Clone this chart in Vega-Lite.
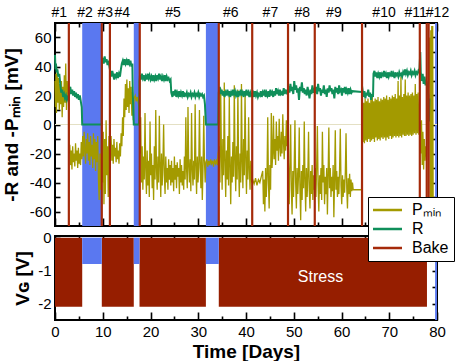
{
"$schema": "https://vega.github.io/schema/vega-lite/v6.json",
"padding": {"left": 1, "top": 4, "right": 0, "bottom": 0},
"background": "white",
"bounds": "flush",
"spacing": 10,
"config": {
  "font": "Liberation Sans",
  "view": {"stroke": "black", "strokeWidth": 2},
  "axis": {"domain": false, "grid": false, "zindex": 1, "tickColor": "black", "tickWidth": 1.6, "labelFont": "Liberation Sans", "labelFontSize": 15, "labelColor": "black", "labelFlush": false, "labelOverlap": false, "labelPadding": 5, "titleFont": "Liberation Sans", "titleFontSize": 19, "titleFontWeight": "bold", "titleColor": "black"}
},
"datasets": {
  "bands": [{"s": 5.7, "e": 9.8}, {"s": 16.5, "e": 17.6}, {"s": 31.6, "e": 34.2}],
  "edge": [{"s": 79.6, "e": 80}],
  "zero": [{"v": 0}],
  "bake": [{"t": 2.9}, {"t": 9.8}, {"t": 11.5}, {"t": 17.75}, {"t": 34.3}, {"t": 41.3}, {"t": 48.8}, {"t": 54.4}, {"t": 64.3}, {"t": 76.4}, {"t": 77.85}, {"t": 78.25}],
  "stress": [{"s": 0, "e": 5.7, "vg": -2.1}, {"s": 9.8, "e": 16.5, "vg": -2.1}, {"s": 17.7, "e": 31.6, "vg": -2.1}, {"s": 34.3, "e": 77.9, "vg": -2.1}],
  "off": [{"s": 5.7, "e": 9.8, "vg": -0.8}, {"s": 16.5, "e": 17.7, "vg": -0.8}, {"s": 31.6, "e": 34.3, "vg": -0.8}],
  "label": [{"t": 55.6, "vg": -1.2, "text": "Stress"}],
  "P": [
{"t":0,"v":30},{"t":0.1,"v":12},{"t":0.2,"v":35},{"t":0.3,"v":8},{"t":0.45,"v":38},{"t":0.6,"v":15},{"t":0.75,"v":32},{"t":0.9,"v":10},{"t":1.05,"v":28},{"t":1.2,"v":14},{"t":1.35,"v":30},{"t":1.5,"v":5},{"t":1.65,"v":26},{"t":1.8,"v":12},{"t":1.95,"v":34},{"t":2.1,"v":15},{"t":2.25,"v":42},{"t":2.4,"v":10},{"t":2.55,"v":30},{"t":2.7,"v":18},{"t":2.85,"v":25},
{"t":2.95,"v":-20},{"t":3.1,"v":-14},{"t":3.25,"v":-28},{"t":3.4,"v":-18},{"t":3.55,"v":-31},{"t":3.7,"v":-15},{"t":3.85,"v":-26},{"t":4.0,"v":-20},{"t":4.15,"v":-29},{"t":4.3,"v":-13},{"t":4.45,"v":-25},{"t":4.6,"v":-18},{"t":4.75,"v":-30},{"t":4.9,"v":-16},{"t":5.05,"v":-27},{"t":5.2,"v":-20},{"t":5.35,"v":-28},{"t":5.5,"v":-12},{"t":5.65,"v":-24},
{"t":5.8,"v":-8},{"t":5.95,"v":-22},{"t":6.1,"v":-5},{"t":6.25,"v":-18},{"t":6.4,"v":-27},{"t":6.55,"v":-10},{"t":6.7,"v":-20},{"t":6.85,"v":-6},{"t":7.0,"v":-25},{"t":7.15,"v":-12},{"t":7.3,"v":-28},{"t":7.45,"v":-8},{"t":7.6,"v":-22},{"t":7.75,"v":-14},{"t":7.9,"v":-30},{"t":8.05,"v":-6},{"t":8.2,"v":-24},{"t":8.35,"v":-10},{"t":8.5,"v":-32},{"t":8.65,"v":-12},{"t":8.8,"v":-26},{"t":8.95,"v":-8},{"t":9.1,"v":-38},{"t":9.25,"v":-52},{"t":9.4,"v":-20},{"t":9.55,"v":-45},{"t":9.7,"v":-15},
{"t":9.85,"v":2},{"t":10.0,"v":-40},{"t":10.1,"v":-5},{"t":10.25,"v":-55},{"t":10.4,"v":-10},{"t":10.55,"v":-48},{"t":10.7,"v":3},{"t":10.85,"v":-35},{"t":11.0,"v":-15},{"t":11.15,"v":-50},{"t":11.3,"v":-8},{"t":11.45,"v":-30},
{"t":11.6,"v":-20},{"t":11.75,"v":-8},{"t":11.9,"v":-25},{"t":12.05,"v":-14},{"t":12.2,"v":-27},{"t":12.35,"v":-10},{"t":12.5,"v":-22},{"t":12.65,"v":-16},{"t":12.8,"v":-26},{"t":12.95,"v":-12},{"t":13.1,"v":-24},{"t":13.25,"v":-18},{"t":13.4,"v":-27},{"t":13.55,"v":-13},{"t":13.7,"v":-22},{"t":13.85,"v":-6},
{"t":14.0,"v":-15},{"t":14.15,"v":5},{"t":14.3,"v":-8},{"t":14.45,"v":18},{"t":14.6,"v":5},{"t":14.75,"v":28},{"t":14.9,"v":10},{"t":15.05,"v":31},{"t":15.2,"v":12},{"t":15.35,"v":25},{"t":15.5,"v":8},{"t":15.65,"v":30},{"t":15.8,"v":14},{"t":15.95,"v":26},{"t":16.1,"v":6},{"t":16.25,"v":22},{"t":16.4,"v":3},
{"t":16.55,"v":18},{"t":16.8,"v":20},{"t":17.0,"v":16},{"t":17.2,"v":19},{"t":17.45,"v":15},{"t":17.65,"v":10},
{"t":17.8,"v":-20},{"t":17.95,"v":5},{"t":18.1,"v":-40},{"t":18.25,"v":-15},{"t":18.4,"v":-45},{"t":18.55,"v":-22},{"t":18.7,"v":-38},{"t":18.85,"v":8},{"t":19.0,"v":-30},{"t":19.15,"v":-48},{"t":19.3,"v":-18},{"t":19.45,"v":-42},{"t":19.6,"v":-25},{"t":19.75,"v":-50},{"t":19.9,"v":2},{"t":20.05,"v":-35},{"t":20.2,"v":-20},{"t":20.35,"v":-44},{"t":20.5,"v":-28},{"t":20.65,"v":-52},{"t":20.8,"v":-15},{"t":20.95,"v":-38},{"t":21.1,"v":10},{"t":21.25,"v":-30},{"t":21.4,"v":-45},{"t":21.55,"v":-22},{"t":21.7,"v":-40},{"t":21.85,"v":6},{"t":22.0,"v":-28},{"t":22.15,"v":-50},{"t":22.3,"v":-20},{"t":22.45,"v":-42},{"t":22.6,"v":-26},{"t":22.75,"v":0},{"t":22.9,"v":-35},{"t":23.05,"v":-48},{"t":23.2,"v":-22},{"t":23.35,"v":-40},{"t":23.5,"v":-30},{"t":23.65,"v":-45},{"t":23.8,"v":-24},{"t":23.95,"v":-38},{"t":24.1,"v":-28},{"t":24.25,"v":-42},
{"t":24.4,"v":-25},{"t":24.55,"v":-40},{"t":24.7,"v":-30},{"t":24.85,"v":-46},{"t":25.0,"v":-22},{"t":25.15,"v":-38},{"t":25.3,"v":-28},{"t":25.45,"v":-44},{"t":25.6,"v":-26},{"t":25.75,"v":-36},{"t":25.9,"v":-30},{"t":26.05,"v":-48},{"t":26.2,"v":-24},{"t":26.35,"v":-40},{"t":26.5,"v":-28},{"t":26.65,"v":-42},{"t":26.8,"v":-32},{"t":26.95,"v":-45},{"t":27.1,"v":-22},{"t":27.25,"v":-38},{"t":27.4,"v":5},{"t":27.55,"v":-30},{"t":27.7,"v":-44},{"t":27.85,"v":12},{"t":28.0,"v":-28},{"t":28.15,"v":-40},{"t":28.3,"v":-24},{"t":28.45,"v":-46},{"t":28.6,"v":8},{"t":28.75,"v":-30},{"t":28.9,"v":-42},{"t":29.05,"v":-25},{"t":29.2,"v":-38},{"t":29.35,"v":14},{"t":29.5,"v":-28},{"t":29.65,"v":-48},{"t":29.8,"v":-22},{"t":29.95,"v":-40},{"t":30.1,"v":-30},{"t":30.25,"v":10},{"t":30.4,"v":-26},{"t":30.55,"v":-44},{"t":30.7,"v":-22},{"t":30.85,"v":-52},{"t":31.0,"v":-30},{"t":31.15,"v":6},{"t":31.3,"v":-25},{"t":31.45,"v":-40},
{"t":31.6,"v":-26},{"t":31.8,"v":-24},{"t":32.0,"v":-29},{"t":32.2,"v":-25},{"t":32.4,"v":-28},{"t":32.6,"v":-24},{"t":32.8,"v":-27},{"t":33.0,"v":-25},{"t":33.2,"v":-29},{"t":33.4,"v":-24},{"t":33.6,"v":-27},{"t":33.8,"v":-25},{"t":34.0,"v":-28},{"t":34.15,"v":-20},
{"t":34.4,"v":-15},{"t":34.55,"v":-40},{"t":34.7,"v":25},{"t":34.85,"v":-20},{"t":35.0,"v":-45},{"t":35.15,"v":-10},{"t":35.3,"v":-35},{"t":35.45,"v":29},{"t":35.6,"v":-25},{"t":35.75,"v":-50},{"t":35.9,"v":-18},{"t":36.05,"v":-38},{"t":36.2,"v":-8},{"t":36.35,"v":-42},{"t":36.5,"v":20},{"t":36.65,"v":-28},{"t":36.8,"v":-55},{"t":36.95,"v":-22},{"t":37.1,"v":-40},{"t":37.25,"v":-12},{"t":37.4,"v":-36},{"t":37.55,"v":27},{"t":37.7,"v":-24},{"t":37.85,"v":-46},{"t":38.0,"v":-15},{"t":38.15,"v":-38},{"t":38.3,"v":24},{"t":38.45,"v":-28},{"t":38.6,"v":-50},{"t":38.75,"v":-20},{"t":38.9,"v":-40},{"t":39.05,"v":28},{"t":39.2,"v":-25},{"t":39.35,"v":-44},{"t":39.5,"v":-10},{"t":39.65,"v":-35},{"t":39.8,"v":22},{"t":39.95,"v":-22},{"t":40.1,"v":-48},{"t":40.25,"v":-18},{"t":40.4,"v":-38},{"t":40.55,"v":5},{"t":40.7,"v":-30},{"t":40.85,"v":-45},{"t":41.0,"v":-25},{"t":41.2,"v":-40},
{"t":41.4,"v":-38},{"t":41.7,"v":-41},{"t":42.0,"v":-37},{"t":42.3,"v":-42},{"t":42.6,"v":-38},{"t":42.9,"v":-40},{"t":43.2,"v":-36},
{"t":43.5,"v":-32},{"t":43.65,"v":-55},{"t":43.8,"v":-38},{"t":43.95,"v":-60},{"t":44.1,"v":-30},{"t":44.25,"v":-50},{"t":44.4,"v":-35},{"t":44.55,"v":5},{"t":44.7,"v":-40},{"t":44.85,"v":-58},{"t":45.0,"v":-28},{"t":45.15,"v":-45},{"t":45.3,"v":8},{"t":45.45,"v":-30},{"t":45.6,"v":-20},{"t":45.75,"v":6},{"t":45.9,"v":-24},{"t":46.05,"v":-10},{"t":46.2,"v":-28},{"t":46.35,"v":2},{"t":46.5,"v":-18},{"t":46.65,"v":-8},{"t":46.8,"v":-25},{"t":46.95,"v":4},{"t":47.1,"v":-15},{"t":47.25,"v":-22},{"t":47.4,"v":-5},{"t":47.55,"v":-20},{"t":47.7,"v":7},{"t":47.85,"v":-12},{"t":48.0,"v":-24},{"t":48.15,"v":-8},{"t":48.3,"v":-18},{"t":48.45,"v":3},{"t":48.6,"v":-15},{"t":48.75,"v":-10},
{"t":48.9,"v":-30},{"t":49.05,"v":-55},{"t":49.2,"v":-25},{"t":49.35,"v":0},{"t":49.5,"v":-45},{"t":49.65,"v":-62},{"t":49.8,"v":-32},{"t":49.95,"v":-50},{"t":50.1,"v":-28},{"t":50.25,"v":3},{"t":50.4,"v":-40},{"t":50.55,"v":-58},{"t":50.7,"v":-30},{"t":50.85,"v":-48},{"t":51.0,"v":-35},{"t":51.15,"v":-2},{"t":51.3,"v":-45},{"t":51.45,"v":-66},{"t":51.6,"v":-32},{"t":51.75,"v":-52},{"t":51.9,"v":-28},{"t":52.05,"v":-44},{"t":52.2,"v":2},{"t":52.35,"v":-38},{"t":52.5,"v":-60},{"t":52.65,"v":-30},{"t":52.8,"v":-50},{"t":52.95,"v":-35},{"t":53.1,"v":-5},{"t":53.25,"v":-45},{"t":53.4,"v":-58},{"t":53.55,"v":-32},{"t":53.7,"v":-48},{"t":53.85,"v":-28},{"t":54.0,"v":-52},{"t":54.15,"v":-35},{"t":54.3,"v":-45},
{"t":54.5,"v":-30},{"t":54.65,"v":-50},{"t":54.8,"v":-28},{"t":54.95,"v":-1},{"t":55.1,"v":-42},{"t":55.25,"v":-60},{"t":55.4,"v":-35},{"t":55.55,"v":-48},{"t":55.7,"v":-30},{"t":55.85,"v":-52},{"t":56.0,"v":-5},{"t":56.15,"v":-40},{"t":56.3,"v":-28},{"t":56.45,"v":-55},{"t":56.6,"v":-36},{"t":56.75,"v":-48},{"t":56.9,"v":-30},{"t":57.05,"v":-62},{"t":57.2,"v":-34},{"t":57.35,"v":-2},{"t":57.5,"v":-44},{"t":57.65,"v":-30},{"t":57.8,"v":-50},{"t":57.95,"v":-36},{"t":58.1,"v":-46},{"t":58.25,"v":-28},{"t":58.4,"v":-64},{"t":58.55,"v":-38},{"t":58.7,"v":-4},{"t":58.85,"v":-45},{"t":59.0,"v":-32},{"t":59.15,"v":-50},{"t":59.3,"v":-36},{"t":59.45,"v":-48},{"t":59.6,"v":-30},{"t":59.75,"v":-3},{"t":59.9,"v":-42},{"t":60.05,"v":-55},{"t":60.2,"v":-35},{"t":60.35,"v":-50},{"t":60.5,"v":-38},{"t":60.65,"v":-47},{"t":60.8,"v":-33},{"t":60.95,"v":-6},{"t":61.1,"v":-44},{"t":61.25,"v":-58},{"t":61.4,"v":-37},{"t":61.55,"v":-48},{"t":61.7,"v":-34},{"t":61.85,"v":-50},{"t":62.0,"v":-38},{"t":62.15,"v":-46},{"t":62.3,"v":-40},{"t":62.45,"v":-45},{"t":64.2,"v":-45},
{"t":64.35,"v":17},{"t":64.5,"v":-12},{"t":64.65,"v":15},{"t":64.8,"v":-13},{"t":64.95,"v":18},{"t":65.1,"v":-11},{"t":65.25,"v":16},{"t":65.4,"v":-12},{"t":65.55,"v":18},{"t":65.7,"v":-10},{"t":65.85,"v":15},{"t":66.0,"v":-12},{"t":66.15,"v":17},{"t":66.3,"v":-11},{"t":66.45,"v":19},{"t":66.6,"v":-10},{"t":66.75,"v":16},{"t":66.9,"v":-12},{"t":67.05,"v":18},{"t":67.2,"v":-9},{"t":67.35,"v":17},{"t":67.5,"v":-11},{"t":67.65,"v":19},{"t":67.8,"v":-10},{"t":67.95,"v":16},{"t":68.1,"v":-11},{"t":68.25,"v":18},{"t":68.4,"v":-9},{"t":68.55,"v":17},{"t":68.7,"v":-10},{"t":68.85,"v":19},{"t":69.0,"v":-9},{"t":69.15,"v":18},{"t":69.3,"v":-11},{"t":69.45,"v":20},{"t":69.6,"v":-9},{"t":69.75,"v":17},{"t":69.9,"v":-10},{"t":70.05,"v":19},{"t":70.2,"v":-8},{"t":70.35,"v":18},{"t":70.5,"v":-10},{"t":70.65,"v":20},{"t":70.8,"v":-9},{"t":70.95,"v":19},{"t":71.1,"v":-8},{"t":71.25,"v":21},{"t":71.4,"v":-9},{"t":71.55,"v":18},{"t":71.7,"v":-8},{"t":71.85,"v":30},{"t":72.0,"v":-9},{"t":72.15,"v":20},{"t":72.3,"v":-8},{"t":72.45,"v":33},{"t":72.6,"v":-9},{"t":72.75,"v":19},{"t":72.9,"v":-7},{"t":73.05,"v":21},{"t":73.2,"v":-8},{"t":73.35,"v":31},{"t":73.5,"v":-8},{"t":73.65,"v":20},{"t":73.8,"v":-7},{"t":73.95,"v":22},{"t":74.1,"v":-8},{"t":74.25,"v":20},{"t":74.4,"v":-7},{"t":74.55,"v":21},{"t":74.7,"v":-8},{"t":74.85,"v":22},{"t":75.0,"v":-7},{"t":75.15,"v":20},{"t":75.3,"v":-6},{"t":75.45,"v":28},{"t":75.6,"v":-7},{"t":75.75,"v":21},{"t":75.9,"v":-6},{"t":76.05,"v":22},{"t":76.2,"v":-7},
{"t":76.45,"v":2},{"t":76.6,"v":-20},{"t":76.75,"v":3},{"t":76.9,"v":-28},{"t":77.05,"v":-5},{"t":77.2,"v":-31},{"t":77.35,"v":-10},{"t":77.5,"v":-25},{"t":77.65,"v":-15},{"t":77.8,"v":-22},
{"t":78.5,"v":60},{"t":78.6,"v":-65},{"t":78.7,"v":65},{"t":78.8,"v":-68},{"t":78.9,"v":68},{"t":79.0,"v":-68},{"t":79.1,"v":68},{"t":79.2,"v":-60}
  ],
  "R": [
{"t":0,"v":48},{"t":0.1,"v":38},{"t":0.2,"v":42},{"t":0.35,"v":36},{"t":0.5,"v":38},{"t":0.7,"v":33},{"t":0.9,"v":35},{"t":1.1,"v":28},{"t":1.3,"v":22},{"t":1.5,"v":24},{"t":1.7,"v":19},{"t":1.9,"v":21},{"t":2.1,"v":18},{"t":2.3,"v":20},{"t":2.5,"v":17},{"t":2.7,"v":19},{"t":2.9,"v":18},
{"t":3.0,"v":23},{"t":3.2,"v":26},{"t":3.4,"v":21},{"t":3.6,"v":24},{"t":3.8,"v":20},{"t":4.0,"v":23},{"t":4.2,"v":19},{"t":4.4,"v":22},{"t":4.6,"v":18},{"t":4.8,"v":21},{"t":5.0,"v":17},{"t":5.2,"v":20},{"t":5.4,"v":16},{"t":5.6,"v":12},{"t":5.7,"v":0},{"t":9.8,"v":0},
{"t":9.85,"v":44},{"t":10.0,"v":46},{"t":10.2,"v":42},{"t":10.4,"v":47},{"t":10.6,"v":43},{"t":10.8,"v":45},{"t":11.0,"v":41},{"t":11.2,"v":44},{"t":11.4,"v":40},{"t":11.6,"v":36},{"t":11.8,"v":33},{"t":12.0,"v":37},{"t":12.2,"v":34},{"t":12.4,"v":31},{"t":12.6,"v":35},{"t":12.8,"v":33},{"t":13.0,"v":36},{"t":13.2,"v":32},{"t":13.4,"v":35},{"t":13.6,"v":33},{"t":13.8,"v":38},{"t":14.0,"v":42},{"t":14.2,"v":44},{"t":14.4,"v":41},{"t":14.6,"v":45},{"t":14.8,"v":42},{"t":15.0,"v":44},{"t":15.2,"v":41},{"t":15.4,"v":45},{"t":15.6,"v":42},{"t":15.8,"v":44},{"t":16.0,"v":40},{"t":16.2,"v":42},{"t":16.3,"v":20},{"t":16.45,"v":5},{"t":16.5,"v":0},{"t":17.6,"v":0},
{"t":17.7,"v":30},{"t":17.8,"v":34},{"t":18.0,"v":31},{"t":18.2,"v":35},{"t":18.4,"v":32},{"t":18.6,"v":34},{"t":18.8,"v":30},{"t":19.0,"v":33},{"t":19.2,"v":31},{"t":19.4,"v":35},{"t":19.6,"v":32},{"t":19.8,"v":34},{"t":20.0,"v":31},{"t":20.2,"v":33},{"t":20.4,"v":30},{"t":20.6,"v":34},{"t":20.8,"v":31},{"t":21.0,"v":33},{"t":21.2,"v":30},{"t":21.4,"v":34},{"t":21.6,"v":32},{"t":21.8,"v":35},{"t":22.0,"v":31},{"t":22.2,"v":33},{"t":22.4,"v":30},{"t":22.6,"v":33},{"t":22.8,"v":31},{"t":23.0,"v":34},{"t":23.2,"v":30},{"t":23.4,"v":33},{"t":23.6,"v":31},{"t":23.8,"v":32},{"t":24.0,"v":30},{"t":24.2,"v":31},
{"t":24.35,"v":22},{"t":24.6,"v":19},{"t":24.8,"v":23},{"t":25.0,"v":20},{"t":25.2,"v":24},{"t":25.4,"v":19},{"t":25.6,"v":22},{"t":25.8,"v":20},{"t":26.0,"v":23},{"t":26.2,"v":19},{"t":26.4,"v":22},{"t":26.6,"v":20},{"t":26.8,"v":23},{"t":27.0,"v":19},{"t":27.2,"v":21},{"t":27.4,"v":20},{"t":27.6,"v":22},{"t":27.8,"v":19},{"t":28.0,"v":21},{"t":28.2,"v":20},{"t":28.4,"v":22},{"t":28.6,"v":19},{"t":28.8,"v":21},{"t":29.0,"v":20},{"t":29.2,"v":22},{"t":29.4,"v":19},{"t":29.6,"v":21},{"t":29.8,"v":20},{"t":30.0,"v":22},{"t":30.2,"v":19},{"t":30.4,"v":21},{"t":30.6,"v":20},{"t":30.8,"v":21},{"t":31.0,"v":19},{"t":31.2,"v":20},{"t":31.4,"v":14},{"t":31.6,"v":0},{"t":34.2,"v":0},
{"t":34.3,"v":22},{"t":34.5,"v":26},{"t":34.7,"v":21},{"t":34.9,"v":24},{"t":35.1,"v":20},{"t":35.3,"v":23},{"t":35.5,"v":19},{"t":35.7,"v":22},{"t":35.9,"v":20},{"t":36.1,"v":24},{"t":36.3,"v":21},{"t":36.5,"v":23},{"t":36.7,"v":19},{"t":36.9,"v":22},{"t":37.1,"v":20},{"t":37.3,"v":24},{"t":37.5,"v":21},{"t":37.7,"v":23},{"t":37.9,"v":20},{"t":38.1,"v":22},{"t":38.3,"v":19},{"t":38.5,"v":23},{"t":38.7,"v":21},{"t":38.9,"v":24},{"t":39.1,"v":20},{"t":39.3,"v":22},{"t":39.5,"v":19},{"t":39.7,"v":23},{"t":39.9,"v":21},{"t":40.1,"v":24},{"t":40.3,"v":20},{"t":40.5,"v":22},{"t":40.7,"v":19},{"t":40.9,"v":22},{"t":41.1,"v":20},{"t":41.3,"v":21},
{"t":41.5,"v":22},{"t":41.7,"v":19},{"t":41.9,"v":23},{"t":42.1,"v":20},{"t":42.3,"v":22},{"t":42.5,"v":19},{"t":42.7,"v":21},{"t":42.9,"v":20},{"t":43.1,"v":23},{"t":43.3,"v":19},{"t":43.5,"v":22},{"t":43.7,"v":20},{"t":43.9,"v":24},{"t":44.1,"v":19},{"t":44.3,"v":22},{"t":44.5,"v":20},{"t":44.7,"v":23},{"t":44.9,"v":19},{"t":45.1,"v":24},{"t":45.3,"v":20},{"t":45.5,"v":22},{"t":45.7,"v":19},{"t":45.9,"v":23},{"t":46.1,"v":20},{"t":46.3,"v":25},{"t":46.5,"v":21},{"t":46.7,"v":23},{"t":46.9,"v":20},{"t":47.1,"v":24},{"t":47.3,"v":21},{"t":47.5,"v":22},{"t":47.7,"v":20},{"t":47.9,"v":25},{"t":48.1,"v":21},{"t":48.3,"v":23},{"t":48.5,"v":22},{"t":48.7,"v":24},
{"t":48.9,"v":25},{"t":49.1,"v":22},{"t":49.3,"v":28},{"t":49.5,"v":23},{"t":49.7,"v":26},{"t":49.9,"v":21},{"t":50.1,"v":30},{"t":50.3,"v":24},{"t":50.5,"v":27},{"t":50.7,"v":22},{"t":50.9,"v":25},{"t":51.1,"v":17},{"t":51.3,"v":26},{"t":51.5,"v":23},{"t":51.7,"v":29},{"t":51.9,"v":22},{"t":52.1,"v":25},{"t":52.3,"v":21},{"t":52.5,"v":24},{"t":52.7,"v":20},{"t":52.9,"v":26},{"t":53.1,"v":22},{"t":53.3,"v":18},{"t":53.5,"v":24},{"t":53.7,"v":21},{"t":53.9,"v":27},{"t":54.1,"v":22},{"t":54.3,"v":24},
{"t":54.5,"v":22},{"t":54.7,"v":26},{"t":54.9,"v":21},{"t":55.1,"v":28},{"t":55.3,"v":23},{"t":55.5,"v":25},{"t":55.7,"v":20},{"t":55.9,"v":24},{"t":56.1,"v":22},{"t":56.3,"v":27},{"t":56.5,"v":21},{"t":56.7,"v":24},{"t":56.9,"v":19},{"t":57.1,"v":25},{"t":57.3,"v":22},{"t":57.5,"v":27},{"t":57.7,"v":23},{"t":57.9,"v":25},{"t":58.1,"v":21},{"t":58.3,"v":24},{"t":58.5,"v":18},{"t":58.7,"v":26},{"t":58.9,"v":22},{"t":59.1,"v":25},{"t":59.3,"v":21},{"t":59.5,"v":27},{"t":59.7,"v":23},{"t":59.9,"v":24},{"t":60.1,"v":20},{"t":60.3,"v":25},{"t":60.5,"v":22},{"t":60.7,"v":26},{"t":60.9,"v":21},{"t":61.1,"v":24},{"t":61.3,"v":22},{"t":61.5,"v":25},{"t":61.7,"v":21},{"t":61.9,"v":24},{"t":62.1,"v":22},{"t":62.3,"v":23},{"t":64.2,"v":22.5},
{"t":64.4,"v":24},{"t":64.6,"v":19},{"t":64.8,"v":23},{"t":65.0,"v":18},{"t":65.2,"v":22},{"t":65.4,"v":20},{"t":65.6,"v":24},{"t":65.8,"v":19},{"t":66.0,"v":22},{"t":66.2,"v":17},{"t":66.4,"v":21},{"t":66.6,"v":19},{"t":66.7,"v":35},
{"t":66.9,"v":37},{"t":67.1,"v":33},{"t":67.3,"v":36},{"t":67.5,"v":32},{"t":67.7,"v":35},{"t":67.9,"v":33},{"t":68.1,"v":36},{"t":68.3,"v":32},{"t":68.5,"v":35},{"t":68.7,"v":34},{"t":68.9,"v":37},{"t":69.1,"v":33},{"t":69.3,"v":35},{"t":69.5,"v":32},{"t":69.7,"v":36},{"t":69.9,"v":33},{"t":70.1,"v":35},{"t":70.3,"v":34},{"t":70.5,"v":37},{"t":70.7,"v":33},{"t":70.9,"v":35},{"t":71.1,"v":32},{"t":71.3,"v":36},{"t":71.5,"v":34},{"t":71.7,"v":35},{"t":71.9,"v":33},{"t":72.1,"v":36},{"t":72.3,"v":34},{"t":72.5,"v":35},{"t":72.7,"v":33},{"t":72.9,"v":36},{"t":73.1,"v":34},{"t":73.3,"v":38},{"t":73.5,"v":35},{"t":73.7,"v":37},{"t":73.9,"v":34},{"t":74.1,"v":36},{"t":74.3,"v":35},{"t":74.5,"v":37},{"t":74.7,"v":34},{"t":74.9,"v":36},{"t":75.1,"v":35},{"t":75.3,"v":37},{"t":75.5,"v":34},{"t":75.7,"v":36},{"t":75.9,"v":35},{"t":76.1,"v":37},{"t":76.3,"v":36},{"t":76.5,"v":50},{"t":76.6,"v":36},{"t":76.8,"v":30},{"t":77.0,"v":35},{"t":77.2,"v":28},{"t":77.4,"v":33},{"t":77.6,"v":27},{"t":77.8,"v":30},{"t":78.2,"v":20},{"t":78.3,"v":2},{"t":78.4,"v":18}
  ]
},
"vconcat": [
  {
    "width": 382, "height": 203,
    "resolve": {"axis": {"x": "independent", "y": "independent"}},
    "layer": [
      {"data": {"name": "bands"}, "mark": {"type": "rect", "color": "#5a78f0"},
       "encoding": {
         "x": {"field": "s", "type": "quantitative", "scale": {"domain": [0, 80], "nice": false},
               "axis": {"orient": "bottom", "values": [0,10,20,30,40,50,60,70,80], "tickSize": -8, "labels": false, "title": null}},
         "x2": {"field": "e"},
         "y": {"datum": -70, "type": "quantitative", "axis": null},
         "y2": {"datum": 70}}},
      {"data": {"name": "edge"}, "mark": {"type": "rect", "color": "#5a78f0"},
       "encoding": {
         "x": {"field": "s", "type": "quantitative",
               "axis": {"orient": "top", "values": [0.8,6.2,10.4,14,24.6,36.7,45,51.7,58.3,68.8,75.4,80], "ticks": false, "labelFontSize": 14, "labelPadding": 4,
                        "labelExpr": "'#' + (indexof([0.8,6.2,10.4,14,24.6,36.7,45,51.7,58.3,68.8,75.4,80], datum.value) + 1)", "title": null}},
         "x2": {"field": "e"},
         "y": {"datum": -70, "type": "quantitative", "axis": null},
         "y2": {"datum": 70}}},
      {"data": {"name": "zero"}, "mark": {"type": "rule", "color": "#e4e0c4", "strokeWidth": 1},
       "encoding": {"y": {"field": "v", "type": "quantitative", "axis": null}}},
      {"data": {"name": "P"}, "mark": {"type": "line", "strokeWidth": 1.3},
       "encoding": {
         "x": {"field": "t", "type": "quantitative",
               "axis": {"orient": "bottom", "values": [5,15,25,35,45,55,65,75], "tickSize": -4, "labels": false, "title": null}},
         "y": {"field": "v", "type": "quantitative", "scale": {"domain": [-70, 70], "nice": false},
               "axis": {"orient": "left", "values": [-60,-50,-40,-30,-20,-10,0,10,20,30,40,50,60], "tickSize": -5, "labelPadding": 9, "titlePadding": 8,
                        "labelExpr": "datum.value % 20 == 0 ? replace(datum.label, '−', '-') : ''", "title": "-R and -Pₘᵢₙ [mV]"}},
         "color": {"datum": "Pₘᵢₙ", "type": "nominal",
                   "scale": {"domain": ["Pₘᵢₙ", "R", "Bake"], "range": ["#a39a00", "#0f8f5a", "#a52a0a"]},
                   "legend": {"orient": "none", "legendX": 313, "legendY": 174, "title": null, "symbolType": "M-1.6,0H4.2", "symbolSize": 100, "symbolStrokeWidth": 2.5,
                              "labelFontSize": 16, "labelFont": "Liberation Sans", "labelColor": "black", "labelOffset": 23, "padding": 5, "rowPadding": 3,
                              "fillColor": "white", "strokeColor": "black", "cornerRadius": 0}}}},
      {"data": {"name": "R"}, "mark": {"type": "line", "strokeWidth": 2},
       "encoding": {
         "x": {"field": "t", "type": "quantitative",
               "axis": {"orient": "top", "values": [0,10,20,30,40,50,60,70,80], "tickSize": -8, "labels": false, "title": null}},
         "y": {"field": "v", "type": "quantitative",
               "axis": {"orient": "right", "values": [-60,-50,-40,-30,-20,-10,0,10,20,30,40,50,60], "tickSize": -5, "labels": false, "title": null}},
         "color": {"datum": "R", "type": "nominal"}}},
      {"data": {"name": "bake"}, "mark": {"type": "rule", "strokeWidth": 2.2},
       "encoding": {
         "x": {"field": "t", "type": "quantitative",
               "axis": {"orient": "top", "values": [5,15,25,35,45,55,65,75], "tickSize": -4, "labels": false, "title": null}},
         "color": {"datum": "Bake", "type": "nominal"}}}
    ]
  },
  {
    "width": 382, "height": 84,
    "resolve": {"axis": {"x": "independent", "y": "independent"}},
    "layer": [
      {"data": {"name": "stress"}, "mark": {"type": "rect", "color": "#961e00"},
       "encoding": {
         "x": {"field": "s", "type": "quantitative", "scale": {"domain": [0, 80], "nice": false},
               "axis": {"orient": "bottom", "values": [0,10,20,30,40,50,60,70,80], "tickSize": -8, "labelPadding": 12, "titlePadding": 3, "title": "Time [Days]"}},
         "x2": {"field": "e"},
         "y": {"field": "vg", "type": "quantitative", "scale": {"domain": [-2.5, 0.05], "nice": false, "zero": false},
               "axis": {"orient": "left", "values": [0,-0.5,-1,-1.5,-2], "tickSize": -5, "labelPadding": 9, "titlePadding": 5,
                        "labelExpr": "datum.value % 1 == 0 ? replace(format(datum.value, 'd'), '−', '-') : ''", "title": "Vɢ [V]"}},
         "y2": {"datum": 0}}},
      {"data": {"name": "off"}, "mark": {"type": "rect", "color": "#5a78f0"},
       "encoding": {
         "x": {"field": "s", "type": "quantitative",
               "axis": {"orient": "bottom", "values": [5,15,25,35,45,55,65,75], "tickSize": -4, "labels": false, "title": null}},
         "x2": {"field": "e"},
         "y": {"field": "vg", "type": "quantitative",
               "axis": {"orient": "right", "values": [0,-0.5,-1,-1.5,-2], "tickSize": -5, "labels": false, "title": null}},
         "y2": {"datum": 0}}},
      {"data": {"name": "edge"}, "mark": {"type": "rect", "color": "#5a78f0"},
       "encoding": {
         "x": {"field": "s", "type": "quantitative",
               "axis": {"orient": "top", "values": [0,10,20,30,40,50,60,70,80], "tickSize": -8, "labels": false, "title": null}},
         "x2": {"field": "e"},
         "y": {"datum": -2.5, "type": "quantitative", "axis": null},
         "y2": {"datum": 0.05}}},
      {"data": {"name": "label"}, "mark": {"type": "text", "color": "white", "fontSize": 16, "font": "Liberation Sans"},
       "encoding": {
         "x": {"field": "t", "type": "quantitative",
               "axis": {"orient": "top", "values": [5,15,25,35,45,55,65,75], "tickSize": -4, "labels": false, "title": null}},
         "y": {"field": "vg", "type": "quantitative", "axis": null},
         "text": {"field": "text"}}}
    ]
  }
]
}
